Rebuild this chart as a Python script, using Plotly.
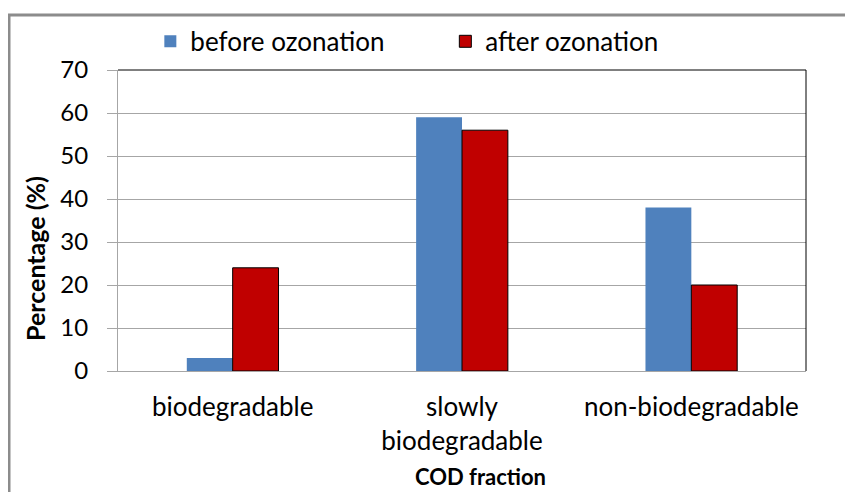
import plotly.graph_objects as go

categories = ["biodegradable", "slowly<br>biodegradable", "non-biodegradable"]
before_ozonation = [3, 59, 38]
after_ozonation = [24, 56, 20]
y_ticks = [0, 10, 20, 30, 40, 50, 60, 70]

FONT = "Lato, Noto Sans, sans-serif"

fig = go.Figure()
fig.add_trace(go.Bar(
    x=categories, y=before_ozonation, name="before ozonation",
    marker=dict(color="#4f81bd", line=dict(width=0)),
))
fig.add_trace(go.Bar(
    x=categories, y=after_ozonation, name="after ozonation",
    marker=dict(color="#c00000", line=dict(color="black", width=1)),
))

# page body adds ~8px offset, so margins are shifted to land the plot at x 118..806, y 70..371
fig.update_layout(
    width=853, height=492,
    margin=dict(l=110, r=55, t=62, b=129, autoexpand=False),
    paper_bgcolor="white", plot_bgcolor="white",
    font=dict(family=FONT, size=24, color="black"),
    barmode="group", bargap=0.6, bargroupgap=0,
    showlegend=True,
    legend=dict(orientation="h", x=0.047, xanchor="left", y=1.095, yanchor="middle",
                font=dict(size=26), itemwidth=30, traceorder="normal",
                entrywidthmode="pixels", entrywidth=250),
    shapes=[
        # outer chart border (runs off the right and bottom edges)
        dict(type="rect", xref="paper", yref="paper",
             x0=(9 - 118) / 688, x1=1.2, y0=-0.6, y1=(371 - 15) / 301,
             line=dict(color="#8c8c8c", width=3), layer="below"),
        # plot area top and right frame
        dict(type="line", xref="paper", yref="paper", x0=0, x1=1, y0=1, y1=1,
             line=dict(color="black", width=1)),
        dict(type="line", xref="paper", yref="paper", x0=1, x1=1, y0=0, y1=1,
             line=dict(color="black", width=1)),
    ],
    annotations=[
        # axis titles, placed like the original (centred on the chart area, not the plot)
        dict(text="<b>Percentage (%)</b>", xref="paper", yref="paper",
             x=(35 - 118) / 688, y=(371 - 259) / 301, textangle=-90,
             showarrow=False, font=dict(size=25), xanchor="center", yanchor="middle"),
        dict(text="<b>COD fraction</b>", xref="paper", yref="paper",
             x=(480 - 118) / 688, y=(371 - 477) / 301,
             showarrow=False, font=dict(size=22), xanchor="center", yanchor="middle"),
    ],
)
fig.update_yaxes(
    range=[0, 70], tickvals=y_ticks, showgrid=True, gridcolor="#a6a6a6", gridwidth=1,
    showline=True, linecolor="#a6a6a6", ticks="outside", ticklen=10, tickcolor="#a6a6a6",
    zeroline=False, tickfont=dict(size=24), ticklabelstandoff=14,
)
fig.update_xaxes(
    showline=True, linecolor="#a6a6a6", ticks="", tickfont=dict(size=26),
    ticklabelstandoff=13,
)

fig.write_html("out.html")
